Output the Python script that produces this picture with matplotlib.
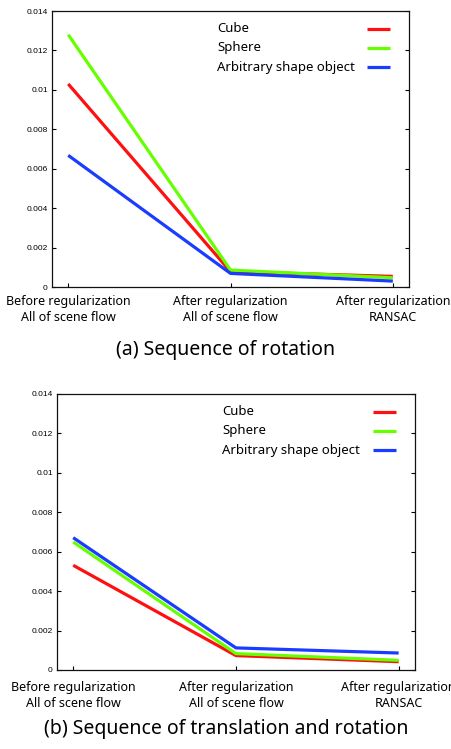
import matplotlib
matplotlib.use("Agg")
import matplotlib.pyplot as plt

plt.rcParams['font.family'] = ['Noto Sans', 'DejaVu Sans']

categories = ["Before regularization\nAll of scene flow",
              "After regularization\nAll of scene flow",
              "After regularization\nRANSAC"]
series_names = ["Cube", "Sphere", "Arbitrary shape object"]
colors = ["#ff1010", "#66ff00", "#1a3cff"]

rot_cube = [0.0103, 0.00078, 0.00054]
rot_sphere = [0.0128, 0.00086, 0.00047]
rot_arb = [0.00668, 0.00069, 0.0003]

tr_cube = [0.00531, 0.00073, 0.00042]
tr_sphere = [0.00649, 0.00083, 0.00049]
tr_arb = [0.00671, 0.00112, 0.00086]

yticks = [0, 0.002, 0.004, 0.006, 0.008, 0.01, 0.012, 0.014]
ytick_labels = ["0", "0.002", "0.004", "0.006", "0.008", "0.01", "0.012", "0.014"]

captions = ["(a) Sequence of rotation", "(b) Sequence of translation and rotation"]

fig = plt.figure(figsize=(4.52, 7.49), dpi=100)
ax1 = fig.add_axes([0.115, 0.6168, 0.790, 0.3685])
ax2 = fig.add_axes([0.126, 0.1055, 0.792, 0.3685])

def draw(ax, data, caption, cap_y, xpad):
    x = list(range(len(categories)))
    for vals, c in zip(data, colors):
        ax.plot(x, vals, color=c, lw=2.3, solid_capstyle='butt')
    ax.set_xlim(-0.1, 2.1)
    ax.set_ylim(0, 0.014)
    ax.set_yticks(yticks)
    ax.set_yticklabels(ytick_labels, fontsize=6, family=['Liberation Sans', 'DejaVu Sans'])
    ax.set_xticks(x)
    ax.set_xticklabels(categories, fontsize=9.0, linespacing=1.25)
    ax.tick_params(axis='y', direction='in', length=3, width=0.8, right=True, pad=3)
    ax.tick_params(axis='x', direction='in', length=3, width=0.8, pad=xpad)
    for s in ax.spines.values():
        s.set_linewidth(0.9)
        s.set_color('#111111')
    # gnuplot-style key: label left, sample right
    ys = [0.935, 0.866, 0.797]
    for name, c, yy in zip(series_names, colors, ys):
        ax.text(0.462, yy, name, transform=ax.transAxes, fontsize=9.5,
                va='center', ha='left')
        ax.plot([0.883, 0.947], [yy, yy], transform=ax.transAxes,
                color=c, lw=2.3, solid_capstyle='butt')
    fig.text(0.5, cap_y, caption, ha='center', va='center', fontsize=14)

draw(ax1, [rot_cube, rot_sphere, rot_arb], captions[0], 1 - 350 / 749, 6)
draw(ax2, [tr_cube, tr_sphere, tr_arb], captions[1], 1 - 729 / 749, 8)

fig.savefig("out.png", dpi=100)
